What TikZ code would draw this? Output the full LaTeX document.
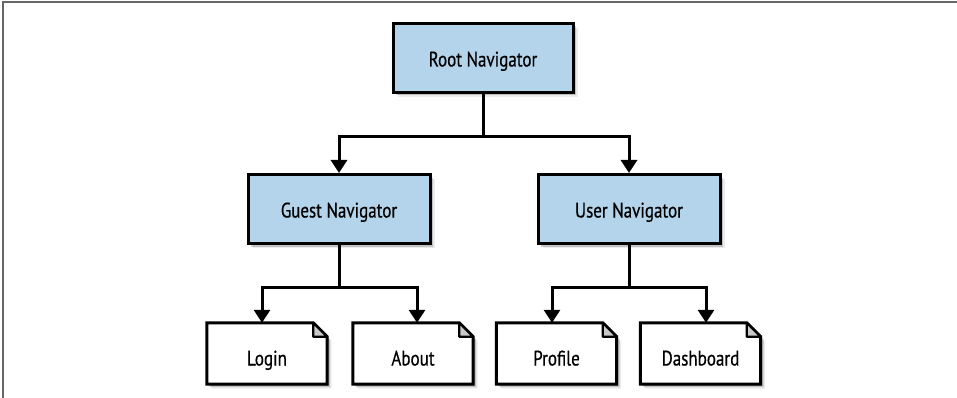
\documentclass[tikz,border=0pt]{standalone}
\usepackage{fontspec}
\setmainfont{PT Sans}[FakeStretch=0.81,FakeBold=0.5]
\usetikzlibrary{arrows.meta,shadows}
\definecolor{navblue}{HTML}{B3D4EA}
\definecolor{framegray}{HTML}{666666}
\definecolor{foldgray}{HTML}{C8C8C8}
\begin{document}
\begin{tikzpicture}[x=1pt,y=-1pt,
  softshadow/.style={
    drop shadow={shadow xshift=1.5pt,shadow yshift=-1.5pt,opacity=0.30,fill=black},
    drop shadow={shadow xshift=3pt,shadow yshift=-3pt,opacity=0.18,fill=black},
    drop shadow={shadow xshift=4.5pt,shadow yshift=-4.5pt,opacity=0.08,fill=black}},
  navbox/.style={draw=black, line width=3pt, fill=navblue,
    minimum width=180pt, minimum height=69pt, inner sep=0pt,
    font=\fontsize{21}{24}\selectfont, text height=17pt, text depth=0pt, softshadow},
  pagenode/.style={minimum width=120pt, minimum height=61pt, inner sep=0pt,
    font=\fontsize{21}{24}\selectfont, text height=24pt, text depth=0pt},
  pageshape/.style={draw=black, line width=3pt, fill=white, line join=miter, softshadow},
  foldshape/.style={draw=black, line width=2.2pt, fill=foldgray, line join=round},
  conn/.style={line width=3pt, -{Triangle[width=16pt,length=13pt]}},
  plain/.style={line width=3pt}
]
\useasboundingbox (0,0) rectangle (957,398);
\draw[framegray, line width=2pt] (3,398) -- (3,2.5) -- (957,2.5);

% page outlines
\newcommand{\pagebox}[1]{%
  \path[pageshape] (#1.south west) -- (#1.north west) -- ([xshift=-14pt]#1.north east)
    -- ([yshift=-14pt]#1.north east) -- (#1.south east) -- cycle;
  \draw[foldshape] ([xshift=-14pt]#1.north east) -- ([xshift=-14pt,yshift=-14pt]#1.north east)
    -- ([yshift=-14pt]#1.north east) -- cycle;}

\node[navbox] (root) at (483,58) {Root Navigator};
\node[navbox, minimum width=182pt] (guest) at (339,209) {Guest Navigator};
\node[navbox, minimum width=182pt] (user) at (629,209) {User Navigator};

\node[pagenode] (login) at (267,353.5) {};
\node[pagenode] (about) at (413,353.5) {};
\node[pagenode] (profile) at (556.5,353.5) {};
\node[pagenode] (dash) at (700.5,353.5) {};
\pagebox{login}
\pagebox{about}
\pagebox{profile}
\pagebox{dash}
\node[pagenode] at (login) {Login};
\node[pagenode] at (about) {About};
\node[pagenode] at (profile) {Profile};
\node[pagenode] at (dash) {Dashboard};

\coordinate (rj) at (483,137);
\coordinate (gj) at (339,287);
\coordinate (uj) at (629,287);

\draw[plain] (root.south) -- (rj);
\draw[conn] (rj) -| (guest.north);
\draw[conn] (rj) -| (user.north);

\draw[plain] (guest.south) -- (gj);
\draw[conn] (gj) -| ([xshift=-5pt]login.north);
\draw[conn] (gj) -| ([xshift=4pt]about.north);

\draw[plain] (user.south) -- (uj);
\draw[conn] (uj) -| ([xshift=-4.5pt]profile.north);
\draw[conn] (uj) -| ([xshift=5.5pt]dash.north);
\end{tikzpicture}
\end{document}
